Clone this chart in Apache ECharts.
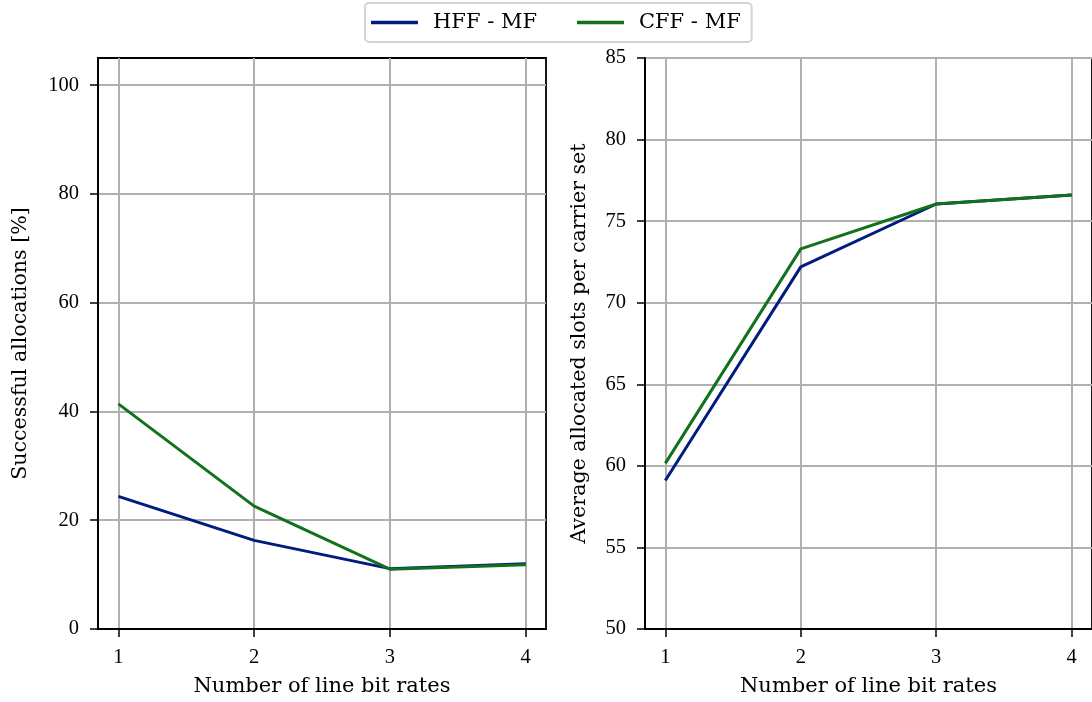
<!DOCTYPE html>
<html>
<head>
<meta charset="utf-8">
<script src="https://cdn.jsdelivr.net/npm/echarts@6/dist/echarts.min.js"></script>
<style>
  html, body { margin: 0; padding: 0; background: #fff; }
  #chart { width: 1092px; height: 702px; }
</style>
</head>
<body>
<div id="chart"></div>
<script>
// data
const bitRates = [1, 2, 3, 4]
const hffSuccess = [24.4, 16.3, 11.1, 12.0]
const cffSuccess = [41.4, 22.6, 11.0, 11.8]
const hffSlots = [59.1, 72.2, 76.05, 76.6]
const cffSlots = [60.15, 73.3, 76.05, 76.6]
const successTicks = [0, 20, 40, 60, 80, 100]

const TICK_FONT = 'Liberation Serif'
const NAME_FONT = 'DejaVu Serif'
const BLUE = '#001c7f'
const GREEN = '#12711c'
const GRID_GRAY = '#b0b0b0'

const pairs = (xs, ys) => xs.map((x, i) => [x, ys[i]])

function xAxisOpt(gridIndex) {
  return {
    type: 'value',
    gridIndex: gridIndex,
    min: 0.85,
    max: 4.15,
    name: 'Number of line bit rates',
    nameLocation: 'middle',
    nameGap: 47,
    nameTextStyle: { color: '#000', fontFamily: NAME_FONT, fontSize: 21 },
    axisLine: { show: true, onZero: false, lineStyle: { color: '#000', width: 1.8 } },
    axisTick: { show: true, inside: false, length: 8, customValues: bitRates, lineStyle: { color: '#000', width: 1.5 } },
    axisLabel: { customValues: bitRates, color: '#000', fontFamily: TICK_FONT, fontSize: 20.5, margin: 18 },
    splitLine: { show: true, lineStyle: { color: GRID_GRAY, width: 2 } }
  }
}

function yAxisOpt(gridIndex, extra) {
  return Object.assign({
    type: 'value',
    gridIndex: gridIndex,
    nameLocation: 'middle',
    nameTextStyle: { color: '#000', fontFamily: NAME_FONT, fontSize: 20.6 },
    axisLine: { show: true, lineStyle: { color: '#000', width: 1.8 } },
    axisTick: { show: true, inside: false, length: 8, lineStyle: { color: '#000', width: 1.5 } },
    axisLabel: { color: '#000', fontFamily: TICK_FONT, fontSize: 20.5, margin: 19 },
    splitLine: { show: true, lineStyle: { color: GRID_GRAY, width: 2 } }
  }, extra)
}

const chart = echarts.init(document.getElementById('chart'), null, { renderer: 'canvas' })
chart.setOption({
  animation: false,
  color: [BLUE, GREEN],
  legend: {
    top: 3,
    left: 365,
    data: ['HFF - MF', 'CFF - MF'],
    icon: 'rect',
    itemWidth: 47,
    itemHeight: 3.5,
    itemGap: 40,
    padding: [9, 11, 9, 6],
    borderColor: '#d4d4d4',
    borderWidth: 2,
    borderRadius: 4,
    textStyle: { color: '#000', fontFamily: NAME_FONT, fontSize: 21, padding: [0, 0, 0, 10] }
  },
  grid: [
    { left: 98, top: 58, width: 448, height: 571, show: true, borderColor: '#000', borderWidth: 1.8, backgroundColor: 'transparent' },
    { left: 645, top: 58, width: 448, height: 571, show: true, borderColor: '#000', borderWidth: 1.8, backgroundColor: 'transparent' }
  ],
  xAxis: [xAxisOpt(0), xAxisOpt(1)],
  yAxis: [
    yAxisOpt(0, {
      min: 0,
      max: 105,
      name: 'Successful allocations [%]',
      nameGap: 67,
      axisTick: { show: true, inside: false, length: 8, customValues: successTicks, lineStyle: { color: '#000', width: 1.5 } },
      axisLabel: { customValues: successTicks, color: '#000', fontFamily: TICK_FONT, fontSize: 20.5, margin: 19 }
    }),
    yAxisOpt(1, {
      min: 50,
      max: 85,
      interval: 5,
      name: 'Average allocated slots per carrier set',
      nameGap: 55
    })
  ],
  series: [
    { name: 'HFF - MF', type: 'line', xAxisIndex: 0, yAxisIndex: 0, data: pairs(bitRates, hffSuccess), showSymbol: false, lineStyle: { width: 3 }, z: 3 },
    { name: 'CFF - MF', type: 'line', xAxisIndex: 0, yAxisIndex: 0, data: pairs(bitRates, cffSuccess), showSymbol: false, lineStyle: { width: 3 }, z: 4 },
    { name: 'HFF - MF', type: 'line', xAxisIndex: 1, yAxisIndex: 1, data: pairs(bitRates, hffSlots), showSymbol: false, lineStyle: { width: 3 }, z: 3 },
    { name: 'CFF - MF', type: 'line', xAxisIndex: 1, yAxisIndex: 1, data: pairs(bitRates, cffSlots), showSymbol: false, lineStyle: { width: 3 }, z: 4 }
  ]
})
</script>
</body>
</html>
